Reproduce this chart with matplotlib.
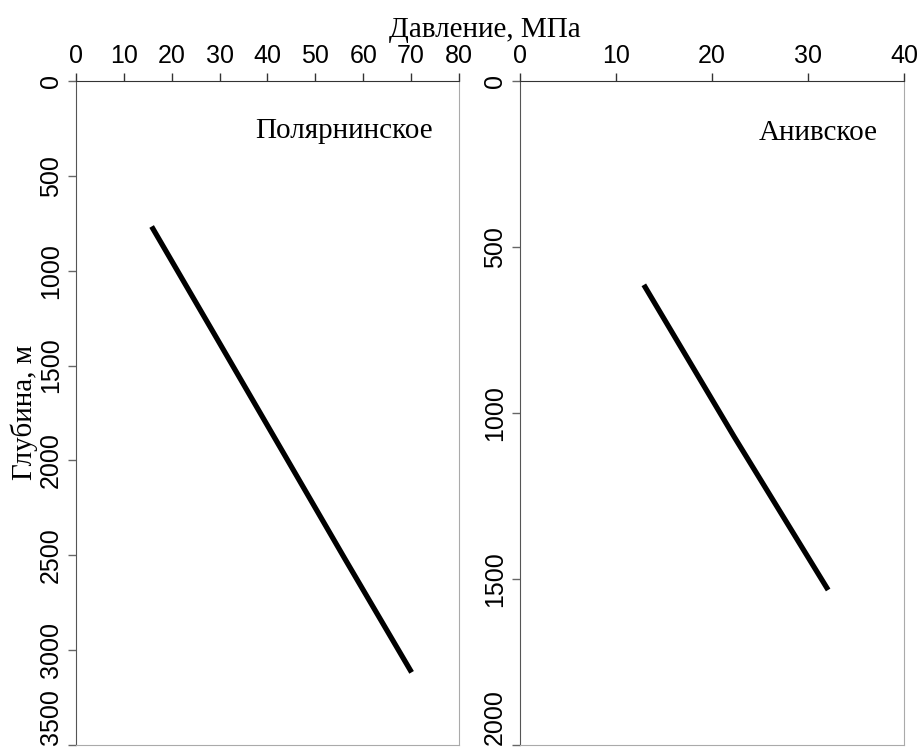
import numpy as np
import matplotlib
matplotlib.use("Agg")
import matplotlib.pyplot as plt

# pressure (MPa) vs depth (m)
polar_depth = [767, 1330, 1942, 2520, 3117]
polar_press = [15.8, 28.8, 42.9, 56.2, 70.1]

aniva_depth = [614, 1071, 1533]
aniva_press = [12.9, 22.3, 32.1]

polar_xticks = [0, 10, 20, 30, 40, 50, 60, 70, 80]
polar_yticks = [0, 500, 1000, 1500, 2000, 2500, 3000, 3500]
aniva_xticks = [0, 10, 20, 30, 40]
aniva_yticks = [0, 500, 1000, 1500, 2000]

TICK_FONT = "Liberation Sans"
TEXT_FONT = "Liberation Serif"


def style_axes(ax, xticks, yticks):
    ax.set_xlim(xticks[0], xticks[-1])
    ax.set_ylim(yticks[-1], yticks[0])
    ax.set_xticks(xticks)
    ax.set_yticks(yticks)
    ax.xaxis.tick_top()
    ax.tick_params(axis="both", direction="out", length=5.8, width=1,
                   colors="#333333", pad=3.6, labelsize=18)
    ax.tick_params(axis="y", colors="#666666", labelcolor="#000000")
    ax.tick_params(axis="x", labelcolor="#000000")
    for lab in ax.get_xticklabels():
        lab.set_fontfamily(TICK_FONT)
    ylabs = ax.get_yticklabels()
    for lab in ylabs:
        lab.set_fontfamily(TICK_FONT)
        lab.set_rotation(90)
        lab.set_va("center")
    # last label is pushed up to stay on the page, like the original
    ylabs[-1].set_va("bottom")
    ax.spines["top"].set_color("#333333")
    ax.spines["left"].set_color("#555555")
    ax.spines["right"].set_color("#aaaaaa")
    ax.spines["bottom"].set_color("#aaaaaa")


fig = plt.figure(figsize=(9.2, 7.49), dpi=100)
ax1 = fig.add_axes([0.0826, 0.0053, 0.4163, 0.8866])
ax2 = fig.add_axes([0.5652, 0.0053, 0.4174, 0.8866])

ax1.plot(polar_press, polar_depth, color="black", lw=3.8, solid_capstyle="butt")
ax2.plot(aniva_press, aniva_depth, color="black", lw=3.8, solid_capstyle="butt")

style_axes(ax1, polar_xticks, polar_yticks)
style_axes(ax2, aniva_xticks, aniva_yticks)

ax1.text(0.932, 0.925, "Полярнинское", transform=ax1.transAxes,
         ha="right", va="center", fontsize=21, family=TEXT_FONT)
ax2.text(0.932, 0.922, "Анивское", transform=ax2.transAxes,
         ha="right", va="center", fontsize=21, family=TEXT_FONT)

fig.text(0.527, 0.96, "Давление, МПа", ha="center", va="center",
         fontsize=21, family=TEXT_FONT)
fig.text(0.026, 0.45, "Глубина, м", ha="center", va="center",
         rotation=90, fontsize=21, family=TEXT_FONT)

fig.savefig("out.png", dpi=100)
